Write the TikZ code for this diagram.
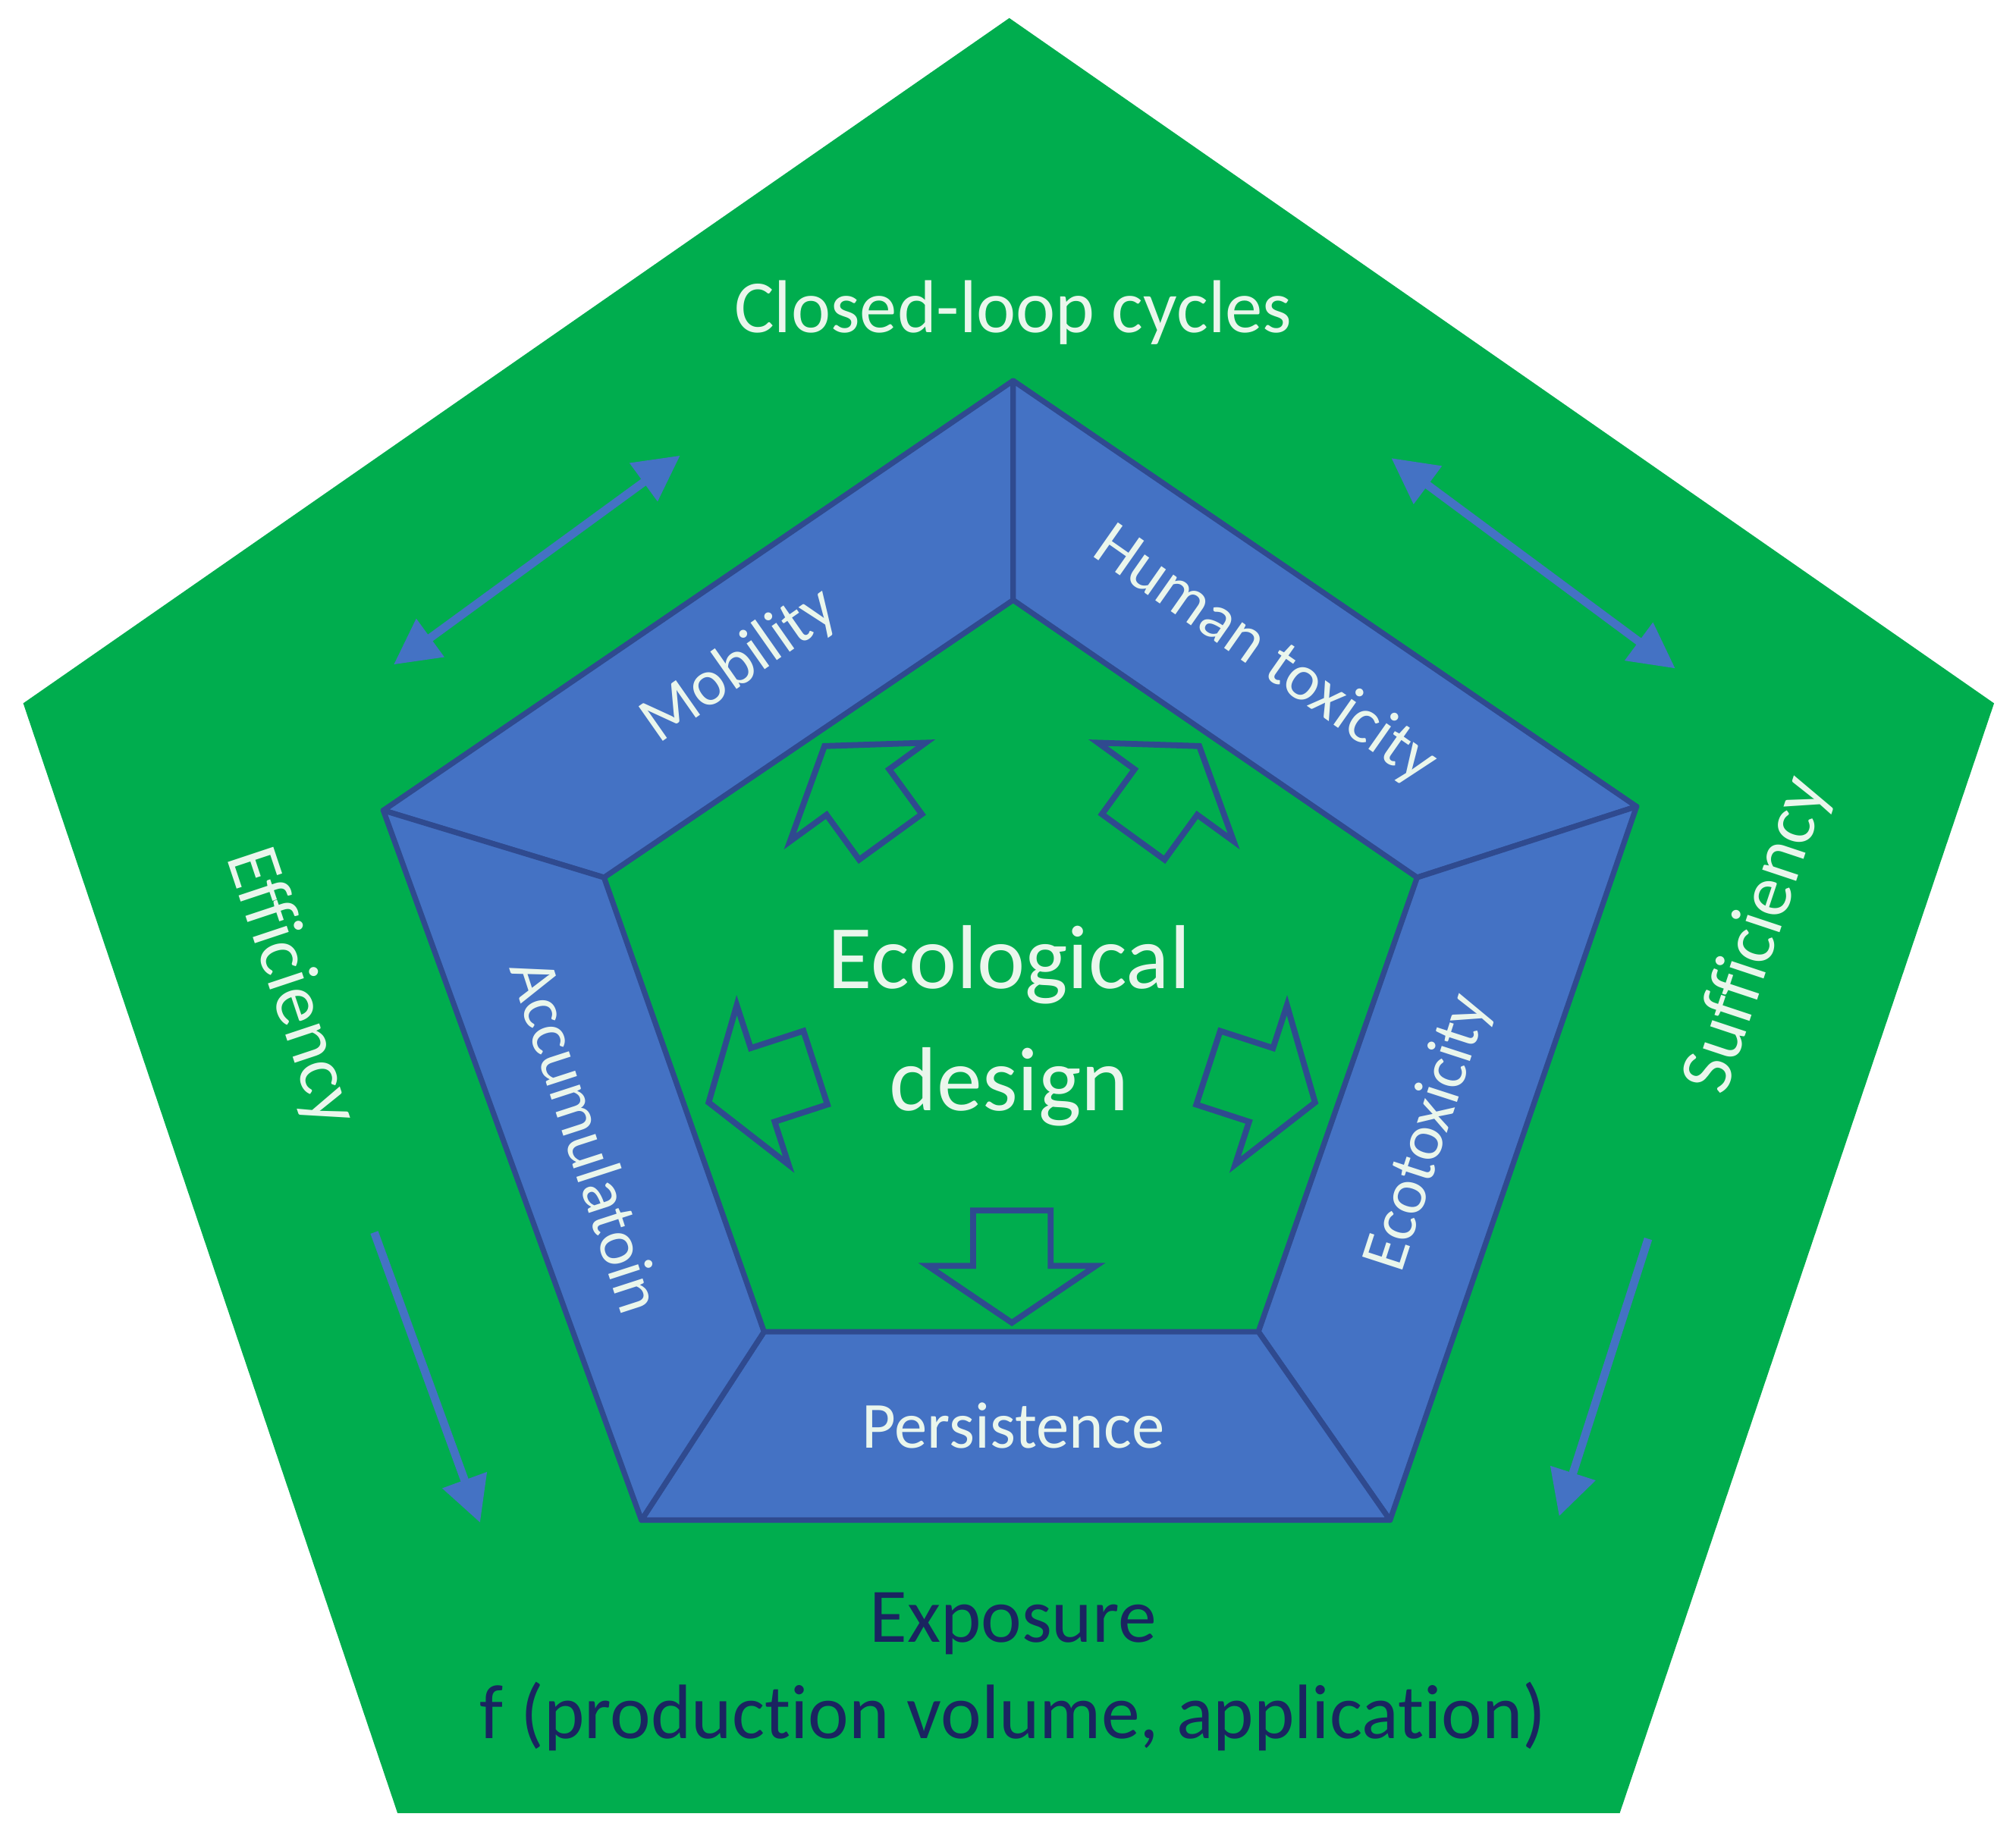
\documentclass[tikz,border=0pt]{standalone}
\usepackage{fontspec}
\setmainfont[Ligatures={NoCommon}]{Carlito}
\usetikzlibrary{arrows.meta}
\definecolor{ecogreen}{HTML}{00AD4E}
\definecolor{frameblue}{HTML}{4472C4}
\definecolor{edgeblue}{HTML}{2F4A8F}
\definecolor{lighttext}{HTML}{EAF6EC}
\definecolor{navytext}{HTML}{1A2460}
\begin{document}
\begin{tikzpicture}[
    x={(0.01cm,0)}, y={(0,-0.01cm)},
    panel/.style={fill=frameblue, draw=edgeblue, line width=1.2pt, line join=round},
    hollowarrow/.style={fill=ecogreen, draw=edgeblue, line width=1.3pt, line join=miter},
    flowarrow/.style={draw=frameblue, line width=1.8pt, -{Triangle[length=10pt,width=10pt]}},
    twoway/.style={draw=frameblue, line width=1.8pt, {Triangle[length=10pt,width=10pt]}-{Triangle[length=10pt,width=10pt]}},
    sidelabel/.style={text=lighttext, font=\fontsize{16.5}{18}\selectfont},
    panellabel/.style={text=lighttext, font=\fontsize{14.5}{16}\selectfont},
]
\useasboundingbox (0,0) rectangle (1562,1427);

% outer pentagon
\fill[ecogreen] (782,14) -- (1545,545) -- (1255,1405) -- (308,1405) -- (18,545) -- cycle;

% frame corners
\coordinate (oT) at (785,295);  \coordinate (iT) at (785,465);
\coordinate (oL) at (297,628);  \coordinate (iL) at (468,680);
\coordinate (oR) at (1268,625); \coordinate (iR) at (1098,680);
\coordinate (oBL) at (497,1178); \coordinate (iBL) at (592,1032);
\coordinate (oBR) at (1077,1178); \coordinate (iBR) at (975,1032);

% frame panels
\draw[panel] (oL) -- (oT) -- (iT) -- (iL) -- cycle;
\draw[panel] (oT) -- (oR) -- (iR) -- (iT) -- cycle;
\draw[panel] (oR) -- (oBR) -- (iBR) -- (iR) -- cycle;
\draw[panel] (oBR) -- (oBL) -- (iBL) -- (iBR) -- cycle;
\draw[panel] (oBL) -- (oL) -- (iL) -- (iBL) -- cycle;

% hollow arrows pointing to the panels
\foreach \k in {0,1,2,3,4} {
  \begin{scope}[shift={(784,778)}, x=0.01cm, y=0.01cm, rotate=72*\k]
    \draw[hollowarrow] (-30,-160) -- (30,-160) -- (30,-203) -- (65,-203)
      -- (0,-247) -- (-65,-203) -- (-30,-203) -- cycle;
  \end{scope}
}

% labels
\node[sidelabel] (closed) at (785,242) {Closed-loop cycles};
\node[sidelabel, rotate=-71.6] (effic) at (225,765) {Efficiency};
\node[sidelabel, rotate=71.6] (suffic) at (1362,725) {Sufficiency};
\node[panellabel, rotate=35] (mobil) at (573,516) {Mobility};
\node[panellabel, rotate=-35] (human) at (980,508) {Human toxicity};
\node[panellabel, rotate=-72] (accum) at (455,880) {Accumulatoin};
\node[panellabel, rotate=72] (ecotox) at (1107,878) {Ecotoxicity};
\node[panellabel] (persist) at (785,1105) {Persistence};
\node[text=lighttext, font=\fontsize{20}{27}\selectfont, align=center] (eco) at (782,795) {Ecological\\design};
\node[text=navytext, font=\fontsize{17}{21}\selectfont] (expo) at (785,1258) {Exposure};
\node[text=navytext, font=\fontsize{17}{21}\selectfont] (func) at (785,1330) {f (production volume, application)};

% connectors
\coordinate (a1) at (305,515);  \coordinate (a2) at (527,353);
\coordinate (b1) at (1078,355); \coordinate (b2) at (1298,518);
\coordinate (c1) at (290,955);  \coordinate (c2) at (372,1180);
\coordinate (d1) at (1277,960); \coordinate (d2) at (1208,1175);
\draw[twoway] (a1) -- (a2);
\draw[twoway] (b1) -- (b2);
\draw[flowarrow] (c1) -- (c2);
\draw[flowarrow] (d1) -- (d2);
\end{tikzpicture}
\end{document}
